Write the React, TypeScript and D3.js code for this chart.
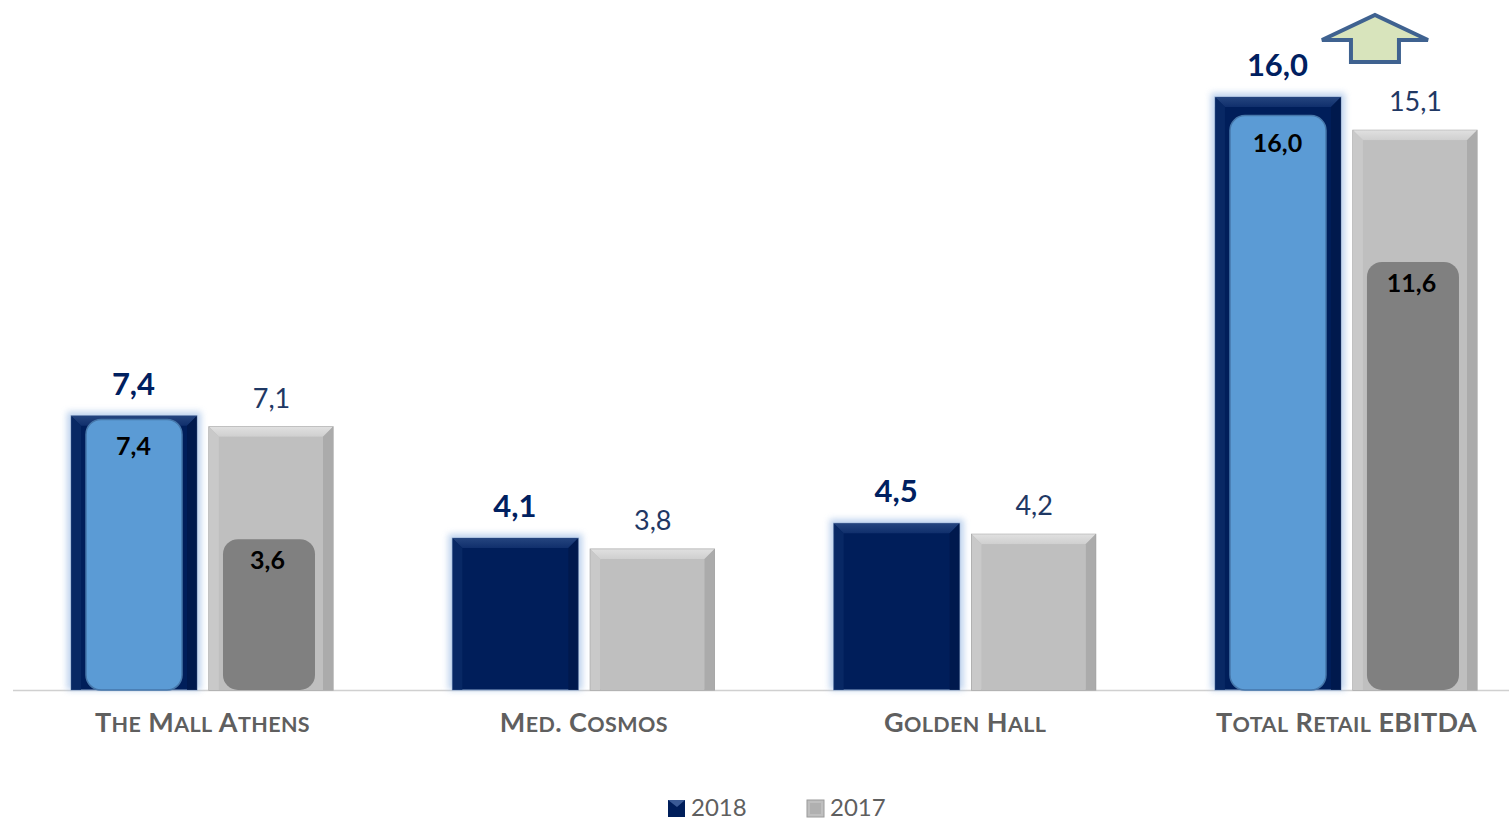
import React from "react";
import * as d3 from "d3";

const categories = ["The Mall Athens", "Med. Cosmos", "Golden Hall", "Total Retail EBITDA"];
const series = ["2018", "2017"];
const values2018 = [7.4, 4.1, 4.5, 16.0];
const values2017 = [7.1, 3.8, 4.2, 15.1];
// inner highlighted bars (labels and heights)
const inner2018Labels = ["7,4", null, null, "16,0"];
const inner2018Heights = [7.3, null, null, 15.5];
const inner2017Labels = ["3,6", null, null, "11,6"];
const inner2017Heights = [4.07, null, null, 11.55];

const W = 1509;
const H = 820;
const FONT = "Lato, 'Open Sans', sans-serif";

const fmt = (v: number) => v.toFixed(1).replace(".", ",");

function SmallCaps({ text, x, y }: { text: string; x: number; y: number }) {
  const words = text.split(" ");
  const parts: React.ReactNode[] = [];
  const isUpper = (ch: string) => /[A-Z]/.test(ch) || !/[a-z]/.test(ch);
  words.forEach((orig, wi) => {
    let i = 0;
    while (i < orig.length) {
      const cap = isUpper(orig[i]);
      let j = i + 1;
      while (j < orig.length && isUpper(orig[j]) === cap) j++;
      parts.push(
        <tspan key={`${wi}-${i}`} fontSize={cap ? 27 : 21.5}>
          {orig.slice(i, j).toUpperCase()}
        </tspan>
      );
      i = j;
    }
    if (wi < words.length - 1) parts.push(<tspan key={`s${wi}`} fontSize={27}>{" "}</tspan>);
  });
  return (
    <text x={x} y={y} textAnchor="middle" fontFamily={FONT} fontWeight={700} fill="#5f5f5f" letterSpacing={0.4}>
      {parts}
    </text>
  );
}

function BevelBar({ x, y, w, h, kind }: { x: number; y: number; w: number; h: number; kind: "dark" | "gray" }) {
  const b = 10;
  const x1 = x + w;
  const y1 = y + h;
  if (kind === "dark") {
    return (
      <g>
        <rect x={x - 4} y={y - 4} width={w + 8} height={h + 4} fill="#a9c4e8" opacity={0.75} filter="url(#glow)" />
        <rect x={x} y={y} width={w} height={h} fill="#001e5a" stroke="#8fa8cc" strokeWidth={1} />
        <polygon points={`${x},${y} ${x1},${y} ${x1 - b},${y + b} ${x + b},${y + b}`} fill="url(#darkTop)" />
        <polygon points={`${x},${y} ${x + b},${y + b} ${x + b},${y1} ${x},${y1}`} fill="#0a2a66" opacity={0.8} />
        <polygon points={`${x1},${y} ${x1 - b},${y + b} ${x1 - b},${y1} ${x1},${y1}`} fill="#00184a" opacity={0.8} />
      </g>
    );
  }
  return (
    <g>
      <rect x={x} y={y} width={w} height={h} fill="#bfbfbf" stroke="#a0a0a0" strokeWidth={1.2} />
      <polygon points={`${x},${y} ${x1},${y} ${x1 - b},${y + b} ${x + b},${y + b}`} fill="url(#grayTop)" />
      <polygon points={`${x},${y} ${x + b},${y + b} ${x + b},${y1} ${x},${y1}`} fill="#c9c9c9" />
      <polygon points={`${x1},${y} ${x1 - b},${y + b} ${x1 - b},${y1} ${x1},${y1}`} fill="#ababab" />
      <rect x={x + b} y={y + b} width={w - 2 * b} height={h - b} fill="#bfbfbf" />
    </g>
  );
}

export default function App() {
  const x = d3.scaleBand<string>().domain(categories).range([12, 1537.3]).padding(0);
  const xs = d3.scaleBand<string>().domain(series).range([59, 322]).paddingInner(0.094).paddingOuter(0);
  const y = d3.scaleLinear().domain([0, 16]).range([690, 97]);
  const baseY = y(0);

  const arrowX = (x(categories[3]) as number) + xs("2017")! - 1;

  return (
    <svg width={W} height={H} style={{ position: "absolute", left: 0, top: 0, background: "#fff" }}>
      <defs>
        <filter id="glow" x="-20%" y="-20%" width="140%" height="140%">
          <feGaussianBlur stdDeviation="3" />
        </filter>
        <linearGradient id="darkTop" x1="0" y1="0" x2="0" y2="1">
          <stop offset="0" stopColor="#25457f" />
          <stop offset="1" stopColor="#102f6c" />
        </linearGradient>
        <linearGradient id="grayTop" x1="0" y1="0" x2="0" y2="1">
          <stop offset="0" stopColor="#e0e0e0" />
          <stop offset="1" stopColor="#cfcfcf" />
        </linearGradient>
      </defs>

      {/* axis line */}
      <line x1={13} x2={W} y1={baseY + 0.5} y2={baseY + 0.5} stroke="#d0d0d0" strokeWidth={1.5} />

      {categories.map((c, i) => {
        const gx = x(c) as number;
        const x18 = gx + xs("2018")!;
        const x17 = gx + xs("2017")!;
        const bw = xs.bandwidth();
        const y18 = y(values2018[i]);
        const y17 = y(values2017[i]);
        const ih18 = inner2018Heights[i];
        const ih17 = inner2017Heights[i];
        return (
          <g key={c}>
            <BevelBar x={x18} y={y18} w={bw + 1} h={baseY - y18} kind="dark" />
            <BevelBar x={x17} y={y17} w={bw - 1} h={baseY - y17} kind="gray" />
            {ih18 != null && (
              <g>
                <rect x={x18 + 15} y={y(ih18)} width={bw - 29} height={baseY - y(ih18)} rx={15} fill="#5b9bd5" stroke="#4677aa" strokeWidth={1.5} />
                <text x={x18 + bw / 2} y={y(ih18) + 36} textAnchor="middle" fontFamily={FONT} fontWeight={700} fontSize={25} fill="#000">
                  {inner2018Labels[i]}
                </text>
              </g>
            )}
            {ih17 != null && (
              <g>
                <rect x={x17 + 14} y={y(ih17)} width={bw - 33} height={baseY - y(ih17)} rx={15} fill="#808080" />
                <text x={x17 + bw / 2 - 4} y={y(ih17) + 30} textAnchor="middle" fontFamily={FONT} fontWeight={700} fontSize={25} fill="#000">
                  {inner2017Labels[i]}
                </text>
              </g>
            )}
            <text x={x18 + bw / 2} y={y18 - 21} textAnchor="middle" fontFamily={FONT} fontWeight={700} fontSize={31} fill="#002060">
              {fmt(values2018[i])}
            </text>
            <text x={x17 + bw / 2} y={y17 - 19} textAnchor="middle" fontFamily={FONT} fontSize={27} fill="#1f3864">
              {fmt(values2017[i])}
            </text>
            <SmallCaps text={c} x={gx + 190.5} y={732} />
          </g>
        );
      })}

      {/* up arrow */}
      <polygon
        points={[
          [arrowX - 30, 40],
          [arrowX + 23, 15],
          [arrowX + 76, 40],
          [arrowX + 47, 40],
          [arrowX + 47, 62],
          [arrowX - 1, 62],
          [arrowX - 1, 40],
        ].map((p) => p.join(",")).join(" ")}
        fill="#d8e4bc"
        stroke="#3f6290"
        strokeWidth={4}
        strokeLinejoin="miter"
      />

      {/* legend */}
      <g fontFamily={FONT} fontSize={24} fill="#5f5f5f">
        <rect x={668} y={800} width={17} height={17} fill="#001e5a" />
        <polygon points="668,800 685,800 677,807" fill="#3a5a95" />
        <text x={691} y={816}>2018</text>
        <rect x={807} y={800} width={17} height={17} fill="#bfbfbf" stroke="#9a9a9a" strokeWidth={1} />
        <rect x={810} y={803} width={11} height={11} fill="#b0b0b0" />
        <text x={830} y={816}>2017</text>
      </g>
    </svg>
  );
}
